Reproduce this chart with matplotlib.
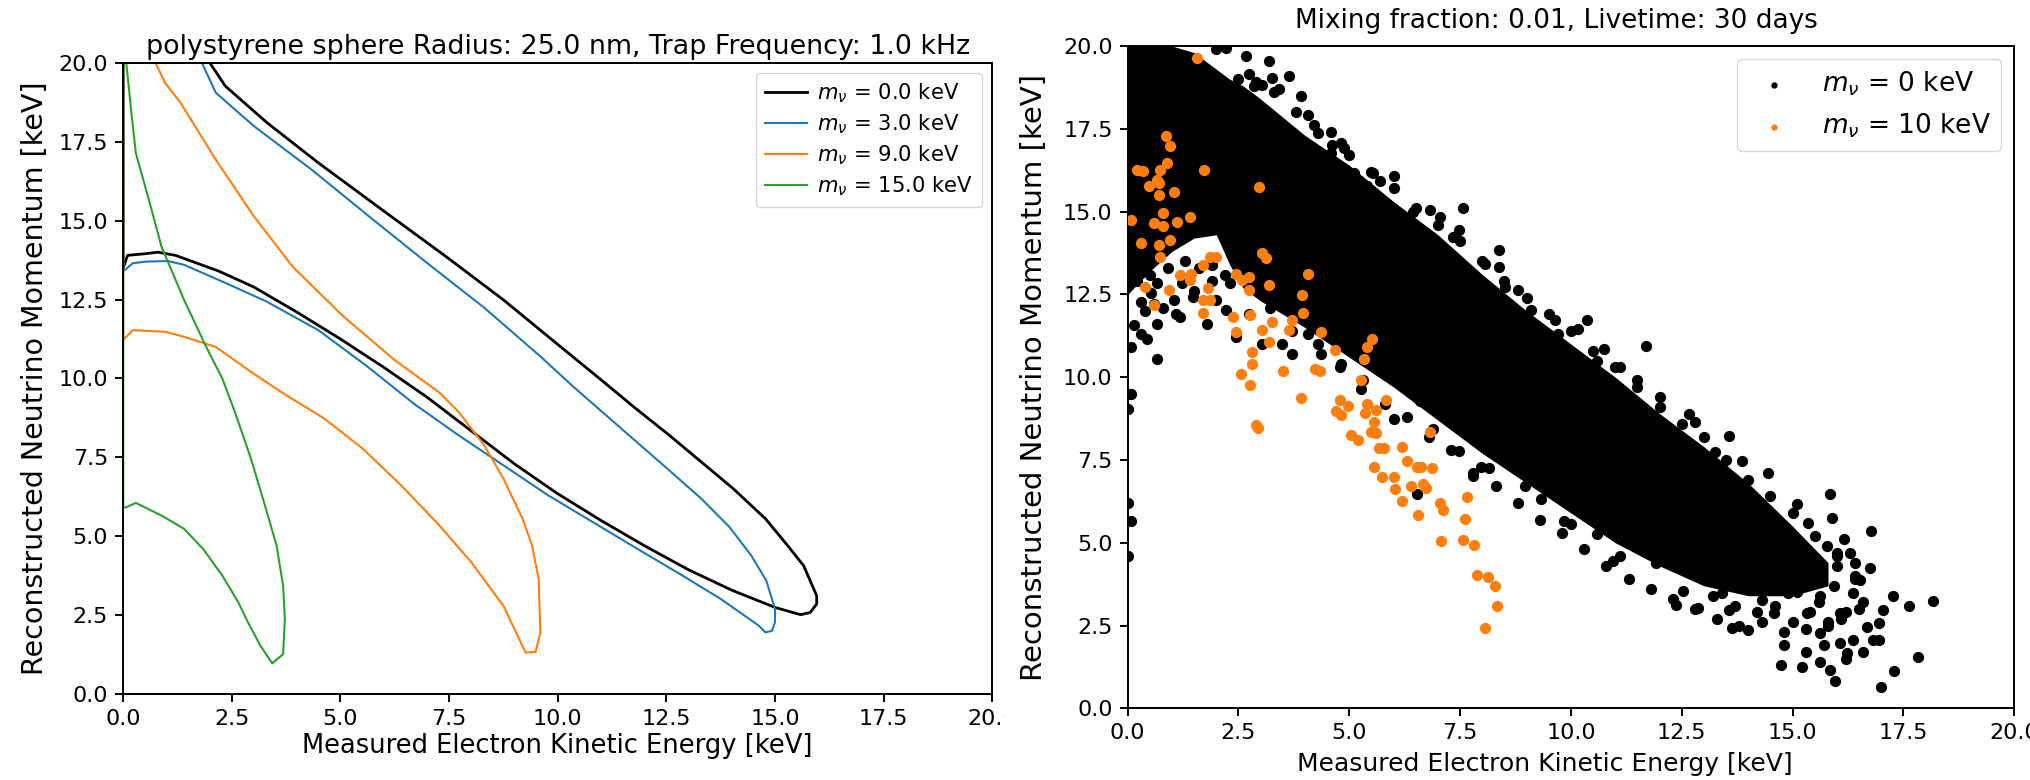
import numpy as np
import matplotlib
matplotlib.use('Agg')
import matplotlib.pyplot as plt
from matplotlib.patches import Rectangle

# ---- left panel: reconstructed-momentum contours (x = T_e, y = p_nu, keV)
m0_x = [0.0, 0.0, 0.1, 0.5, 0.8, 1.2, 1.6, 2.2, 3.0, 4.0, 5.0, 6.0, 7.0, 8.0, 9.0, 10.0,
        11.0, 12.0, 13.0, 14.0, 15.0, 15.59, 15.81, 15.96, 15.96, 15.66, 15.29, 14.78, 14.04,
        13.31, 12.57, 11.75, 10.96, 10.07, 8.75, 7.43, 5.96, 4.49, 3.31, 2.35, 1.99, 1.8]
m0_y = [20.5, 13.5, 13.9, 13.95, 14.0, 13.9, 13.7, 13.4, 12.9, 12.1, 11.25, 10.35, 9.4, 8.35,
        7.3, 6.35, 5.5, 4.7, 3.95, 3.3, 2.75, 2.52, 2.59, 2.86, 3.12, 4.07, 4.71, 5.56, 6.51,
        7.35, 8.2, 9.1, 10.0, 11.0, 12.49, 13.86, 15.34, 16.83, 18.1, 19.26, 20.0, 20.4]

m3_x = [0.0, 0.0, 0.22, 0.51, 1.03, 1.4, 2.28, 3.31, 4.49, 5.6, 6.69, 7.72, 8.75, 9.78,
        10.81, 11.84, 12.87, 13.75, 14.63, 14.78, 14.93, 15.0, 15.0, 14.8, 14.45, 13.95, 13.3,
        12.6, 11.85, 11.1, 10.35, 9.6, 8.3, 7.0, 5.66, 4.34, 3.01, 2.13, 1.81, 1.65]
m3_y = [20.5, 13.39, 13.65, 13.7, 13.72, 13.6, 13.07, 12.43, 11.53, 10.4, 9.2, 8.2, 7.25,
        6.3, 5.45, 4.6, 3.76, 3.02, 2.17, 1.96, 2.01, 2.28, 2.7, 3.6, 4.4, 5.3, 6.2, 7.05,
        7.95, 8.85, 9.75, 10.7, 12.25, 13.65, 15.13, 16.61, 17.99, 19.05, 20.0, 20.4]

m9_x = [0.0, 0.0, 0.22, 0.51, 0.96, 1.4, 2.13, 2.95, 3.75, 4.63, 5.51, 6.4, 7.28, 8.01, 8.75,
        9.26, 9.49, 9.6, 9.56, 9.41, 9.19, 8.75, 8.31, 7.72, 7.28, 6.25, 5.07, 3.9, 3.01,
        2.13, 1.32, 0.96, 0.74, 0.65]
m9_y = [20.5, 11.22, 11.53, 11.51, 11.48, 11.32, 11.0, 10.2, 9.47, 8.73, 7.78, 6.61, 5.34,
        4.18, 2.8, 1.32, 1.34, 1.96, 3.65, 4.71, 5.56, 6.83, 7.88, 8.94, 9.55, 10.58, 11.96,
        13.54, 15.13, 16.93, 18.73, 19.37, 20.0, 20.4]

m15_x = [0.0, 0.0, 0.07, 0.29, 0.88, 1.4, 1.84, 2.28, 2.65, 2.87, 3.16, 3.43, 3.68, 3.72, 3.68,
         3.53, 3.24, 2.94, 2.57, 2.28, 1.91, 1.4, 0.88, 0.59, 0.29, 0.18, 0.07, 0.05]
m15_y = [20.5, 5.92, 5.92, 6.06, 5.66, 5.24, 4.6, 3.76, 2.91, 2.28, 1.53, 0.98, 1.27, 2.38,
         3.44, 4.71, 6.08, 7.46, 8.94, 10.0, 11.0, 12.49, 14.18, 15.66, 17.14, 18.52, 20.0, 20.4]

curves = [(m0_x, m0_y, 'black', r'$m_\nu$ = 0.0 keV', 2.0),
          (m3_x, m3_y, '#1f77b4', r'$m_\nu$ = 3.0 keV', 1.5),
          (m9_x, m9_y, '#ff7f0e', r'$m_\nu$ = 9.0 keV', 1.5),
          (m15_x, m15_y, '#2ca02c', r'$m_\nu$ = 15.0 keV', 1.5)]

# ---- right panel: simulated events
# dense core of the massless sample, given as its lower / upper edge
core_x = [0, 0.5, 1, 1.5, 2, 2.3, 2.6, 3, 4, 5, 6, 7, 8, 9, 10, 11, 12, 13, 14, 15, 15.8]
core_lo = [12.5, 13.2, 13.8, 14.2, 14.3, 13.4, 12.7, 12.3, 11.5, 10.6, 9.7, 8.7, 7.7, 6.8,
           5.9, 5.0, 4.3, 3.7, 3.4, 3.4, 3.7]
core_hi = [20.0, 20.0, 20.0, 19.8, 19.3, 19.0, 18.8, 18.4, 17.3, 16.4, 15.3, 14.3, 13.1, 12.0,
           11.0, 10.0, 8.9, 7.9, 6.8, 5.5, 4.4]

bk_x = [2.0, 2.22, 2.67, 3.19, 2.74, 3.26, 3.63, 2.84, 3.04, 3.41, 3.9, 4.07, 4.3, 4.59, 4.81,
        4.89, 4.59, 5.11, 5.53, 6.0, 5.7, 5.41, 6.44, 6.81, 7.56, 7.04, 7.48, 7.33, 8.37, 8.37,
        8.07, 8.52, 8.81, 9.11, 9.63, 10.15, 10.37, 9.7, 11.7, 10.74, 10.59, 11.11, 11.48,
        0.07, 0.15, 0.67, 0.44, 0.0, 0.67, 0.52, 0.3, 1.04, 1.19, 1.78, 0.67, 1.23, 1.48, 2.0,
        2.3, 2.22, 2.44, 2.74, 3.04, 3.48, 3.7, 4.07, 4.37, 4.81, 5.11,
        0.0, 0.07, 0.0, 0.07, 0.0, 5.26, 6.0, 6.59, 6.89, 7.48, 7.97, 8.15, 7.78, 6.52, 8.96,
        9.33, 9.85, 10.0, 10.59, 10.96, 11.11, 11.93, 12.37, 12.86, 12.52, 13.56, 14.0, 13.63,
        14.74, 15.21, 15.63, 15.85, 15.96, 16.22, 17.0, 17.29, 17.82, 17.63, 18.18, 17.26,
        17.04, 16.96, 16.76, 16.74, 16.3, 15.9, 15.85, 15.11, 15.36, 14.37, 14.44, 13.85,
        13.56, 13.26, 12.67, 12.81, 12.0, 16.52, 16.37, 16.67, 16.81, 16.07, 15.63, 15.33,
        14.89, 14.59, 15.63, 16.07, 16.37, 16.96, 15.93, 14.15, 13.41, 14.3, 15.04, 15.41,
        15.78, 16.15,
        2.5, 2.9, 3.3, 3.8, 4.2, 4.6, 5.0, 5.5, 6.0, 6.5, 7.0, 7.5, 8.0, 8.5, 9.0, 9.5, 10.0,
        10.5, 11.0, 11.5, 12.0, 12.5, 13.0, 13.5, 14.0, 14.5, 15.0, 15.5, 16.0, 16.4,
        3.2, 3.7, 4.3, 4.8, 5.3, 5.8, 6.3, 6.8, 7.3, 7.8, 8.3, 8.8, 9.3, 9.8, 10.3, 10.8, 11.3,
        11.8, 12.3, 12.8, 13.3, 13.8, 14.3, 14.8, 15.3, 15.8, 16.2, 16.6,
        0.2, 0.5, 0.9, 1.3, 1.6, 1.9, 2.2, 0.4, 0.8, 1.1, 1.5, 1.9, 2.4, 0.3, 0.6,
        13.2, 13.7, 14.2, 14.6, 15.0, 15.4, 15.8, 16.1, 16.5, 13.6, 14.1, 14.6, 15.1, 15.6,
        16.0, 16.4, 14.8, 15.3, 15.7, 16.2, 16.6, 15.2, 15.6, 16.0, 16.4]
bk_y = [19.9, 19.95, 19.7, 19.55, 19.14, 19.04, 19.09, 18.79, 18.81, 18.69, 18.48, 17.93,
        17.37, 17.39, 17.07, 16.92, 16.77, 16.16, 16.16, 16.06, 15.91, 15.76, 14.99, 15.05,
        15.1, 14.85, 14.44, 14.24, 13.84, 13.33, 13.43, 12.73, 12.63, 12.02, 11.72, 11.46,
        11.72, 11.31, 10.93, 10.86, 10.5, 10.3, 9.9,
        10.91, 11.57, 10.56, 11.16, 9.49, 11.62, 12.53, 12.27, 12.32, 11.82, 11.62, 12.83,
        12.83, 12.42, 12.32, 12.83, 12.02, 11.21, 11.92, 11.01, 11.01, 10.71, 11.31, 10.71,
        10.4, 11.31,
        9.04, 9.49, 6.21, 5.66, 4.6, 9.65, 8.74, 9.29, 8.43, 7.78, 7.3, 7.27, 7.02, 6.46, 6.72,
        6.31, 5.66, 5.56, 5.25, 4.44, 4.6, 4.39, 3.13, 3.03, 3.54, 2.98, 2.37, 2.42, 1.31,
        1.24, 1.41, 1.16, 0.81, 1.67, 0.64, 1.14, 1.55, 3.08, 3.23, 3.38, 2.98, 2.58, 5.35,
        4.24, 4.7, 5.76, 6.46, 6.16, 5.61, 5.91, 7.12, 7.47, 8.23, 7.73, 8.89, 8.64, 9.39,
        3.89, 3.48, 2.47, 2.07, 1.97, 2.27, 2.88, 3.48, 2.88, 3.38, 2.88, 2.07, 2.07, 3.69,
        3.89, 3.48, 3.28, 4.09, 4.49, 4.9, 5.1,
        19.0, 18.9, 18.6, 18.0, 17.6, 17.0, 16.7, 16.2, 15.7, 15.1, 14.6, 14.1, 13.5, 12.9,
        12.4, 11.9, 11.4, 10.8, 10.3, 9.7, 9.1, 8.6, 8.2, 7.5, 6.9, 6.4, 5.9, 5.2, 4.6, 4.0,
        12.1, 11.4, 11.0, 10.3, 9.9, 9.2, 8.8, 8.2, 7.8, 7.1, 6.7, 6.2, 5.7, 5.3, 4.8, 4.3,
        3.9, 3.6, 3.3, 3.0, 2.7, 2.5, 2.6, 2.3, 2.4, 2.6, 2.9, 3.2,
        12.9, 13.1, 13.3, 13.5, 13.3, 13.4, 13.1, 12.0, 12.1, 11.9, 12.6, 12.9, 13.6, 11.3, 12.2,
        3.4, 3.1, 2.9, 3.1, 2.6, 2.9, 2.5, 2.7, 3.0, 4.3, 4.0, 3.7, 3.5, 3.2, 4.3, 3.9, 1.9,
        1.7, 1.9, 1.5, 1.7, 4.6, 4.2, 4.7, 4.4]

or_x = [1.56, 0.86, 0.96, 0.89, 0.74, 0.22, 0.34, 0.67, 0.7, 0.49, 1.04, 0.71, 1.73, 2.96,
        0.07, 0.79, 1.41, 0.59, 0.79, 1.11, 0.3, 0.7, 0.96, 0.74, 1.85, 2.0, 1.7, 1.19, 1.44,
        1.41, 0.4, 0.93, 0.59, 1.82, 1.7, 1.85, 2.44, 2.59, 2.74, 2.74, 3.11, 3.04, 4.07, 3.19,
        3.93, 1.7, 2.37, 2.77, 3.26, 3.7, 3.96, 3.04, 3.19, 3.63, 4.37, 2.44, 5.51, 2.81, 4.67,
        5.41, 5.33, 2.81, 2.56, 3.51, 4.22, 4.33, 2.77, 5.26,
        3.9, 4.79, 4.96, 4.7, 4.81, 5.41, 5.6, 5.35, 5.82, 2.89, 2.93, 5.56, 5.48, 5.6, 5.04,
        5.19, 6.81, 5.78, 5.67, 6.18, 6.3, 6.52, 6.62, 6.86, 5.56, 5.73, 6.0, 6.03, 6.4, 6.67,
        6.74, 7.66, 6.18, 7.04, 7.11, 7.61, 6.55, 7.08, 7.56, 7.81, 7.88, 8.13, 8.28, 8.33, 8.07]
or_y = [19.65, 17.29, 16.97, 16.48, 16.26, 16.26, 16.24, 15.96, 15.86, 15.76, 15.58, 15.5,
        16.26, 15.74, 14.75, 14.95, 14.85, 14.67, 14.57, 14.7, 14.04, 13.99, 14.14, 13.64,
        13.64, 13.64, 13.38, 13.08, 13.13, 12.93, 12.73, 12.63, 12.17, 12.68, 12.32, 12.32,
        13.13, 12.93, 13.03, 12.63, 13.59, 13.74, 13.11, 12.78, 12.47, 11.94, 11.82, 11.87,
        11.67, 11.72, 11.94, 11.41, 11.06, 11.41, 11.36, 11.36, 11.16, 10.76, 10.81, 10.91,
        10.56, 10.4, 10.1, 10.2, 10.25, 10.2, 9.75, 9.9,
        9.37, 9.32, 9.14, 8.99, 8.86, 9.19, 9.02, 8.91, 9.32, 8.57, 8.45, 8.64, 8.35, 8.3, 8.25,
        8.11, 8.33, 7.87, 7.85, 7.9, 7.47, 7.3, 7.3, 7.27, 7.3, 7.0, 7.0, 6.62, 6.7, 6.77, 6.64,
        6.39, 6.26, 6.21, 5.99, 5.73, 5.83, 5.05, 5.08, 4.92, 4.04, 3.96, 3.69, 3.08, 2.44]

xlab = 'Measured Electron Kinetic Energy [keV]'
ylab = 'Reconstructed Neutrino Momentum [keV]'

fig = plt.figure(figsize=(20.3, 7.8), dpi=100, facecolor='white')

ax_l = fig.add_axes([0.0607, 0.1099, 0.4281, 0.8097])
for xs, ys, col, lab, lw in curves:
    ax_l.plot(xs, ys, color=col, lw=lw, label=lab)
ax_l.set_xlim(0, 20)
ax_l.set_ylim(0, 20)
ax_l.set_xticks(np.arange(0, 20.1, 2.5))
ax_l.set_yticks(np.arange(0, 20.1, 2.5))
ax_l.tick_params(labelsize=16, length=5.8, width=1.4, pad=5)
for sp in ax_l.spines.values():
    sp.set_linewidth(1.4)
ax_l.set_xlabel(xlab, fontsize=18.5, labelpad=3)
ax_l.set_ylabel(ylab, fontsize=20.5, labelpad=7)
ax_l.set_title('polystyrene sphere Radius: 25.0 nm, Trap Frequency: 1.0 kHz', fontsize=19.4, pad=6)
ax_l.legend(loc='upper right', fontsize=15.2, handlelength=2.0, handletextpad=0.5,
            labelspacing=0.35)

ax_r = fig.add_axes([0.5555, 0.0919, 0.4367, 0.8491])
ax_r.fill_between(core_x, core_lo, core_hi, color='black', lw=0, zorder=2)
ax_r.scatter(bk_x, bk_y, s=50, color='black', zorder=2, label=r'$m_\nu$ = 0 keV')
ax_r.scatter(or_x, or_y, s=50, color='#ff7f0e', zorder=3, label=r'$m_\nu$ = 10 keV')
ax_r.set_xlim(0, 20)
ax_r.set_ylim(0, 20)
ax_r.set_xticks(np.arange(0, 20.1, 2.5))
ax_r.set_yticks(np.arange(0, 20.1, 2.5))
ax_r.tick_params(labelsize=16, length=5.8, width=1.4, pad=5)
for sp in ax_r.spines.values():
    sp.set_linewidth(1.4)
ax_r.set_xlabel(xlab, fontsize=18, labelpad=6)
ax_r.xaxis.label.set_x(0.47)
ax_r.set_ylabel(ylab, fontsize=21, labelpad=11)
ax_r.set_title('Mixing fraction: 0.01, Livetime: 30 days', fontsize=18.9, pad=13, x=0.484)
ax_r.legend(loc='upper right', fontsize=19, markerscale=0.5)

# the left image was cropped right through its last tick label
fig.add_artist(Rectangle((1004 / 2030, 45 / 780), 14 / 2030, 38 / 780,
                         transform=fig.transFigure, facecolor='white', edgecolor='none', zorder=10))

fig.savefig('out.png', dpi=100)
